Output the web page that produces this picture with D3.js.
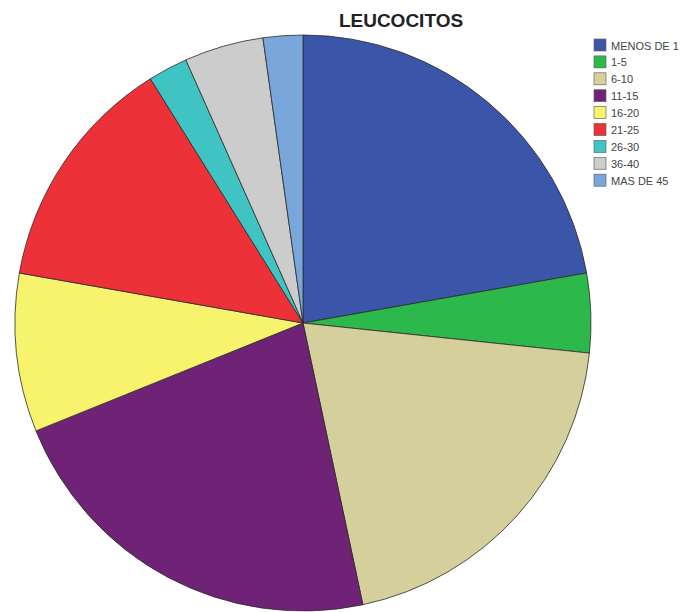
<!DOCTYPE html>
<html>
<head>
<meta charset="utf-8">
<script src="https://cdn.jsdelivr.net/npm/d3@7"></script>
<style>
  html, body { margin: 0; padding: 0; background: #ffffff; }
  svg { display: block; }
</style>
</head>
<body>
<svg id="chart" width="689" height="612"></svg>
<script>
// Leukocyte count groups and number of cases in each
const categories = ["MENOS DE 1", "1-5", "6-10", "11-15", "16-20", "21-25", "26-30", "36-40", "MAS DE 45"];
const counts = [10, 2, 9, 10, 4, 6, 1, 2, 1];
const colors = ["#3b56a9", "#2db84b", "#d4cf9b", "#6f2376", "#f8f36c", "#ec3139", "#40c4c3", "#cccccc", "#7aa7db"];
const title = "LEUCOCITOS";

const svg = d3.select("#chart");
const cx = 303, cy = 323, radius = 288;

const color = d3.scaleOrdinal().domain(categories).range(colors);

const pie = d3.pie()
  .value(d => d.count)
  .sort(null)
  .startAngle(0)
  .endAngle(2 * Math.PI);

const arc = d3.arc().innerRadius(0).outerRadius(radius);

const data = categories.map((c, i) => ({ category: c, count: counts[i] }));

svg.append("g")
  .attr("transform", `translate(${cx},${cy})`)
  .selectAll("path")
  .data(pie(data))
  .join("path")
  .attr("d", arc)
  .attr("fill", d => color(d.data.category))
  .attr("stroke", "#2b2b2b")
  .attr("stroke-width", 0.8)
  .attr("stroke-linejoin", "round");

// Title
svg.append("text")
  .attr("x", 401)
  .attr("y", 27)
  .attr("text-anchor", "middle")
  .attr("font-family", "'Liberation Sans', Arial, sans-serif")
  .attr("font-weight", "bold")
  .attr("font-size", 19)
  .attr("fill", "#222")
  .text(title);

// Legend
const legend = svg.append("g")
  .attr("transform", "translate(594,39)")
  .selectAll("g")
  .data(categories)
  .join("g")
  .attr("transform", (d, i) => `translate(0,${i * 16.9})`);

legend.append("rect")
  .attr("width", 12)
  .attr("height", 12)
  .attr("fill", d => color(d))
  .attr("stroke", "#666")
  .attr("stroke-width", 0.7);

legend.append("text")
  .attr("x", 17)
  .attr("y", 10.5)
  .attr("font-family", "'Liberation Sans', Arial, sans-serif")
  .attr("font-size", 11)
  .attr("fill", "#444")
  .text(d => d);
</script>
</body>
</html>
